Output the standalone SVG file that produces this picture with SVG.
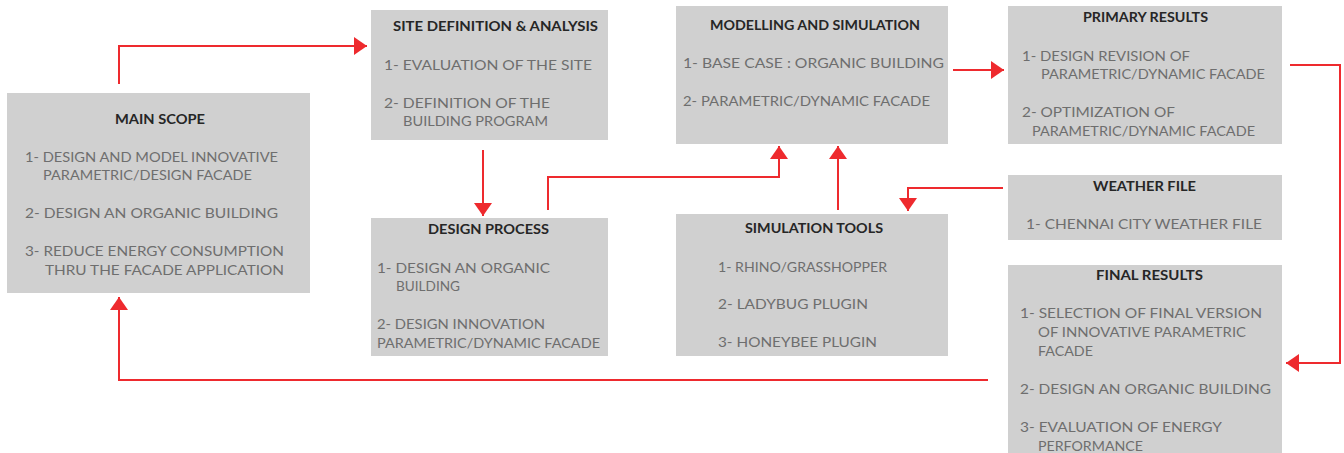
<svg xmlns="http://www.w3.org/2000/svg" width="1344" height="453" viewBox="0 0 1344 453">
<style>
.box{fill:#d0d0d0;}
.t{font-family:Lato,"Liberation Sans",sans-serif;font-size:12.5px;font-weight:bold;fill:#262626;}
.b{font-family:Lato,"Liberation Sans",sans-serif;font-size:13px;fill:#6e6e6e;}
.c{fill:none;stroke:#ee2a2e;stroke-width:2;}
</style>
<defs>
<marker id="ah" markerUnits="userSpaceOnUse" markerWidth="14" markerHeight="18" refX="13" refY="9" orient="auto">
<path d="M0,0 L13,9 L0,18 z" fill="#ee2a2e"/>
</marker>
</defs>
<rect width="1344" height="453" fill="#ffffff"/>

<g id="main-scope">
<rect class="box" x="7" y="93" width="303" height="200"/>
<text class="t" x="115" y="124" textLength="90" lengthAdjust="spacingAndGlyphs">MAIN SCOPE</text>
<text class="b" x="25" y="162" textLength="253" lengthAdjust="spacingAndGlyphs">1- DESIGN AND MODEL INNOVATIVE</text>
<text class="b" x="43" y="180" textLength="209" lengthAdjust="spacingAndGlyphs">PARAMETRIC/DESIGN FACADE</text>
<text class="b" x="25" y="218" textLength="253" lengthAdjust="spacingAndGlyphs">2- DESIGN AN ORGANIC BUILDING</text>
<text class="b" x="25" y="256" textLength="259" lengthAdjust="spacingAndGlyphs">3- REDUCE ENERGY CONSUMPTION</text>
<text class="b" x="45" y="275" textLength="239" lengthAdjust="spacingAndGlyphs">THRU THE FACADE APPLICATION</text>
</g>

<g id="site-definition">
<rect class="box" x="371" y="10" width="237" height="130"/>
<text class="t" x="393" y="31" textLength="205" lengthAdjust="spacingAndGlyphs">SITE DEFINITION &amp; ANALYSIS</text>
<text class="b" x="384" y="70" textLength="208" lengthAdjust="spacingAndGlyphs">1- EVALUATION OF THE SITE</text>
<text class="b" x="384" y="108" textLength="166" lengthAdjust="spacingAndGlyphs">2- DEFINITION OF THE</text>
<text class="b" x="403" y="126" textLength="145" lengthAdjust="spacingAndGlyphs">BUILDING PROGRAM</text>
</g>

<g id="modelling">
<rect class="box" x="676" y="6" width="272" height="138"/>
<text class="t" x="710" y="30" textLength="210" lengthAdjust="spacingAndGlyphs">MODELLING AND SIMULATION</text>
<text class="b" x="683" y="68" textLength="261" lengthAdjust="spacingAndGlyphs">1- BASE CASE : ORGANIC BUILDING</text>
<text class="b" x="683" y="106" textLength="247" lengthAdjust="spacingAndGlyphs">2- PARAMETRIC/DYNAMIC FACADE</text>
</g>

<g id="primary-results">
<rect class="box" x="1008" y="6" width="274" height="138"/>
<text class="t" x="1083" y="22" textLength="125" lengthAdjust="spacingAndGlyphs">PRIMARY RESULTS</text>
<text class="b" x="1022" y="61" textLength="168" lengthAdjust="spacingAndGlyphs">1- DESIGN REVISION OF</text>
<text class="b" x="1041" y="79" textLength="224" lengthAdjust="spacingAndGlyphs">PARAMETRIC/DYNAMIC FACADE</text>
<text class="b" x="1022" y="117" textLength="153" lengthAdjust="spacingAndGlyphs">2- OPTIMIZATION OF</text>
<text class="b" x="1032" y="136" textLength="223" lengthAdjust="spacingAndGlyphs">PARAMETRIC/DYNAMIC FACADE</text>
</g>

<g id="weather-file">
<rect class="box" x="1008" y="175" width="274" height="65"/>
<text class="t" x="1093" y="191" textLength="103" lengthAdjust="spacingAndGlyphs">WEATHER FILE</text>
<text class="b" x="1026" y="229" textLength="236" lengthAdjust="spacingAndGlyphs">1- CHENNAI CITY WEATHER FILE</text>
</g>

<g id="design-process">
<rect class="box" x="371" y="218" width="237" height="138"/>
<text class="t" x="428" y="234" textLength="121" lengthAdjust="spacingAndGlyphs">DESIGN PROCESS</text>
<text class="b" x="377" y="273" textLength="173" lengthAdjust="spacingAndGlyphs">1- DESIGN AN ORGANIC</text>
<text class="b" x="396" y="291" textLength="64" lengthAdjust="spacingAndGlyphs">BUILDING</text>
<text class="b" x="377" y="329" textLength="168" lengthAdjust="spacingAndGlyphs">2- DESIGN INNOVATION</text>
<text class="b" x="377" y="348" textLength="223" lengthAdjust="spacingAndGlyphs">PARAMETRIC/DYNAMIC FACADE</text>
</g>

<g id="simulation-tools">
<rect class="box" x="676" y="214" width="272" height="142"/>
<text class="t" x="745" y="233" textLength="138" lengthAdjust="spacingAndGlyphs">SIMULATION TOOLS</text>
<text class="b" x="718" y="272" textLength="169" lengthAdjust="spacingAndGlyphs">1- RHINO/GRASSHOPPER</text>
<text class="b" x="718" y="309" textLength="150" lengthAdjust="spacingAndGlyphs">2- LADYBUG PLUGIN</text>
<text class="b" x="718" y="347" textLength="159" lengthAdjust="spacingAndGlyphs">3- HONEYBEE PLUGIN</text>
</g>

<g id="final-results">
<rect class="box" x="1008" y="265" width="274" height="195"/>
<text class="t" x="1096" y="280" textLength="107" lengthAdjust="spacingAndGlyphs">FINAL RESULTS</text>
<text class="b" x="1020" y="318" textLength="242" lengthAdjust="spacingAndGlyphs">1- SELECTION OF FINAL VERSION</text>
<text class="b" x="1038" y="337" textLength="208" lengthAdjust="spacingAndGlyphs">OF INNOVATIVE PARAMETRIC</text>
<text class="b" x="1038" y="356" textLength="55" lengthAdjust="spacingAndGlyphs">FACADE</text>
<text class="b" x="1020" y="394" textLength="251" lengthAdjust="spacingAndGlyphs">2- DESIGN AN ORGANIC BUILDING</text>
<text class="b" x="1020" y="432" textLength="202" lengthAdjust="spacingAndGlyphs">3- EVALUATION OF ENERGY</text>
<text class="b" x="1038" y="451" textLength="105" lengthAdjust="spacingAndGlyphs">PERFORMANCE</text>
</g>

<g id="connectors">
<path class="c" d="M119,84 V46 H367" marker-end="url(#ah)"/>
<path class="c" d="M483,150 V216" marker-end="url(#ah)"/>
<path class="c" d="M548,210 V177 H779 V146" marker-end="url(#ah)"/>
<path class="c" d="M838,210 V146" marker-end="url(#ah)"/>
<path class="c" d="M953,70 H1004" marker-end="url(#ah)"/>
<path class="c" d="M1290,65 H1340 V363 H1286" marker-end="url(#ah)"/>
<path class="c" d="M1003,188 H908 V211" marker-end="url(#ah)"/>
<path class="c" d="M988,380 H119 V297" marker-end="url(#ah)"/>
</g>
</svg>
